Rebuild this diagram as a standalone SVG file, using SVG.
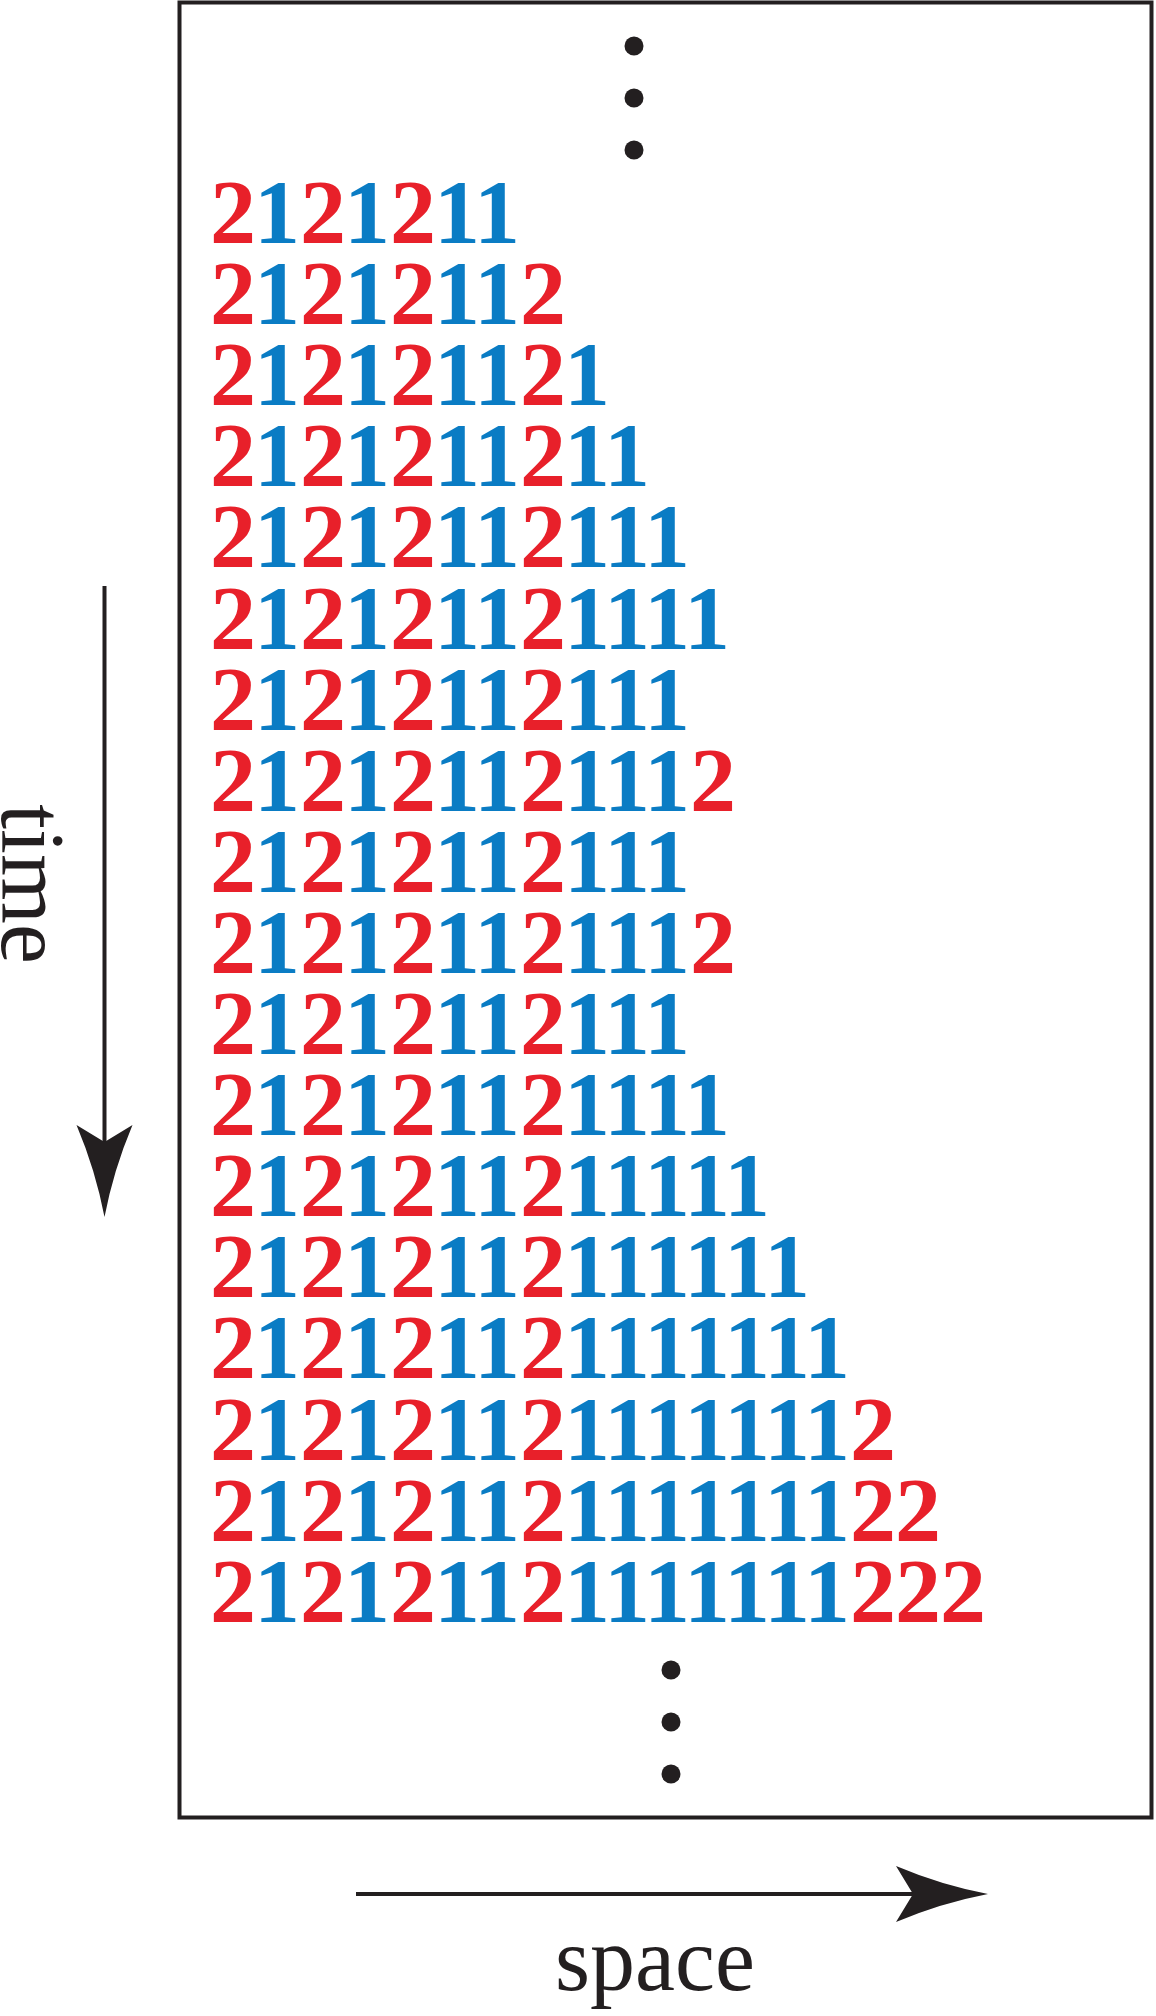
<svg xmlns="http://www.w3.org/2000/svg" width="1156" height="2016" viewBox="0 0 1156 2016">
<style>
.frame{fill:none;stroke:#231f20;stroke-width:4}
.dot{fill:#231f20}
.row{font-family:"Liberation Serif","Times New Roman",serif;font-weight:bold;font-size:92px}
.r{fill:#e8202a}
.b{fill:#0a7cc4}
.label{font-family:"Liberation Serif","Times New Roman",serif;font-size:90px;fill:#231f20}
.axis{stroke:#231f20;stroke-width:4;fill:none}
</style>
<defs>
<marker id="head" viewBox="0 -30 95 60" markerWidth="95" markerHeight="60" refX="17" refY="0" orient="auto" markerUnits="userSpaceOnUse">
<path d="M92,0 Q45,-9 0,-28 L17,0 L0,28 Q45,9 92,0 Z" fill="#231f20"/>
</marker>
</defs>
<rect id="box" class="frame" x="179.5" y="2.5" width="972" height="1815"/>
<g id="dots-top">
<circle class="dot" cx="634" cy="46" r="9.5"/>
<circle class="dot" cx="634" cy="98" r="9.5"/>
<circle class="dot" cx="634" cy="150" r="9.5"/>
</g>
<g id="rows" class="row">
<text y="243"><tspan class="r" x="210">2</tspan><tspan class="b" x="254">1</tspan><tspan class="r" x="300">2</tspan><tspan class="b" x="344">1</tspan><tspan class="r" x="390">2</tspan><tspan class="b" x="434 474">11</tspan></text>
<text y="324"><tspan class="r" x="210">2</tspan><tspan class="b" x="254">1</tspan><tspan class="r" x="300">2</tspan><tspan class="b" x="344">1</tspan><tspan class="r" x="390">2</tspan><tspan class="b" x="434 474">11</tspan><tspan class="r" x="520">2</tspan></text>
<text y="405"><tspan class="r" x="210">2</tspan><tspan class="b" x="254">1</tspan><tspan class="r" x="300">2</tspan><tspan class="b" x="344">1</tspan><tspan class="r" x="390">2</tspan><tspan class="b" x="434 474">11</tspan><tspan class="r" x="520">2</tspan><tspan class="b" x="564">1</tspan></text>
<text y="486"><tspan class="r" x="210">2</tspan><tspan class="b" x="254">1</tspan><tspan class="r" x="300">2</tspan><tspan class="b" x="344">1</tspan><tspan class="r" x="390">2</tspan><tspan class="b" x="434 474">11</tspan><tspan class="r" x="520">2</tspan><tspan class="b" x="564 604">11</tspan></text>
<text y="567"><tspan class="r" x="210">2</tspan><tspan class="b" x="254">1</tspan><tspan class="r" x="300">2</tspan><tspan class="b" x="344">1</tspan><tspan class="r" x="390">2</tspan><tspan class="b" x="434 474">11</tspan><tspan class="r" x="520">2</tspan><tspan class="b" x="564 604 644">111</tspan></text>
<text y="649"><tspan class="r" x="210">2</tspan><tspan class="b" x="254">1</tspan><tspan class="r" x="300">2</tspan><tspan class="b" x="344">1</tspan><tspan class="r" x="390">2</tspan><tspan class="b" x="434 474">11</tspan><tspan class="r" x="520">2</tspan><tspan class="b" x="564 604 644 684">1111</tspan></text>
<text y="730"><tspan class="r" x="210">2</tspan><tspan class="b" x="254">1</tspan><tspan class="r" x="300">2</tspan><tspan class="b" x="344">1</tspan><tspan class="r" x="390">2</tspan><tspan class="b" x="434 474">11</tspan><tspan class="r" x="520">2</tspan><tspan class="b" x="564 604 644">111</tspan></text>
<text y="811"><tspan class="r" x="210">2</tspan><tspan class="b" x="254">1</tspan><tspan class="r" x="300">2</tspan><tspan class="b" x="344">1</tspan><tspan class="r" x="390">2</tspan><tspan class="b" x="434 474">11</tspan><tspan class="r" x="520">2</tspan><tspan class="b" x="564 604 644">111</tspan><tspan class="r" x="690">2</tspan></text>
<text y="892"><tspan class="r" x="210">2</tspan><tspan class="b" x="254">1</tspan><tspan class="r" x="300">2</tspan><tspan class="b" x="344">1</tspan><tspan class="r" x="390">2</tspan><tspan class="b" x="434 474">11</tspan><tspan class="r" x="520">2</tspan><tspan class="b" x="564 604 644">111</tspan></text>
<text y="973"><tspan class="r" x="210">2</tspan><tspan class="b" x="254">1</tspan><tspan class="r" x="300">2</tspan><tspan class="b" x="344">1</tspan><tspan class="r" x="390">2</tspan><tspan class="b" x="434 474">11</tspan><tspan class="r" x="520">2</tspan><tspan class="b" x="564 604 644">111</tspan><tspan class="r" x="690">2</tspan></text>
<text y="1054"><tspan class="r" x="210">2</tspan><tspan class="b" x="254">1</tspan><tspan class="r" x="300">2</tspan><tspan class="b" x="344">1</tspan><tspan class="r" x="390">2</tspan><tspan class="b" x="434 474">11</tspan><tspan class="r" x="520">2</tspan><tspan class="b" x="564 604 644">111</tspan></text>
<text y="1135"><tspan class="r" x="210">2</tspan><tspan class="b" x="254">1</tspan><tspan class="r" x="300">2</tspan><tspan class="b" x="344">1</tspan><tspan class="r" x="390">2</tspan><tspan class="b" x="434 474">11</tspan><tspan class="r" x="520">2</tspan><tspan class="b" x="564 604 644 684">1111</tspan></text>
<text y="1216"><tspan class="r" x="210">2</tspan><tspan class="b" x="254">1</tspan><tspan class="r" x="300">2</tspan><tspan class="b" x="344">1</tspan><tspan class="r" x="390">2</tspan><tspan class="b" x="434 474">11</tspan><tspan class="r" x="520">2</tspan><tspan class="b" x="564 604 644 684 724">11111</tspan></text>
<text y="1297"><tspan class="r" x="210">2</tspan><tspan class="b" x="254">1</tspan><tspan class="r" x="300">2</tspan><tspan class="b" x="344">1</tspan><tspan class="r" x="390">2</tspan><tspan class="b" x="434 474">11</tspan><tspan class="r" x="520">2</tspan><tspan class="b" x="564 604 644 684 724 764">111111</tspan></text>
<text y="1378"><tspan class="r" x="210">2</tspan><tspan class="b" x="254">1</tspan><tspan class="r" x="300">2</tspan><tspan class="b" x="344">1</tspan><tspan class="r" x="390">2</tspan><tspan class="b" x="434 474">11</tspan><tspan class="r" x="520">2</tspan><tspan class="b" x="564 604 644 684 724 764 804">1111111</tspan></text>
<text y="1460"><tspan class="r" x="210">2</tspan><tspan class="b" x="254">1</tspan><tspan class="r" x="300">2</tspan><tspan class="b" x="344">1</tspan><tspan class="r" x="390">2</tspan><tspan class="b" x="434 474">11</tspan><tspan class="r" x="520">2</tspan><tspan class="b" x="564 604 644 684 724 764 804">1111111</tspan><tspan class="r" x="850">2</tspan></text>
<text y="1541"><tspan class="r" x="210">2</tspan><tspan class="b" x="254">1</tspan><tspan class="r" x="300">2</tspan><tspan class="b" x="344">1</tspan><tspan class="r" x="390">2</tspan><tspan class="b" x="434 474">11</tspan><tspan class="r" x="520">2</tspan><tspan class="b" x="564 604 644 684 724 764 804">1111111</tspan><tspan class="r" x="850 895">22</tspan></text>
<text y="1622"><tspan class="r" x="210">2</tspan><tspan class="b" x="254">1</tspan><tspan class="r" x="300">2</tspan><tspan class="b" x="344">1</tspan><tspan class="r" x="390">2</tspan><tspan class="b" x="434 474">11</tspan><tspan class="r" x="520">2</tspan><tspan class="b" x="564 604 644 684 724 764 804">1111111</tspan><tspan class="r" x="850 895 940">222</tspan></text>
</g>
<g id="dots-bottom">
<circle class="dot" cx="671" cy="1670" r="9.5"/>
<circle class="dot" cx="671" cy="1722" r="9.5"/>
<circle class="dot" cx="671" cy="1774" r="9.5"/>
</g>
<g id="connectors">
<line id="time-arrow" class="axis" x1="104.5" y1="586" x2="104.5" y2="1142" marker-end="url(#head)"/>
<line id="space-arrow" class="axis" x1="356" y1="1894" x2="913" y2="1894" marker-end="url(#head)"/>
</g>
<g id="time-label">
<text class="label" transform="translate(2,804) rotate(90)" x="0" y="0">time</text>
</g>
<g id="space-label">
<text class="label" x="655" y="1990" text-anchor="middle">space</text>
</g>
</svg>
